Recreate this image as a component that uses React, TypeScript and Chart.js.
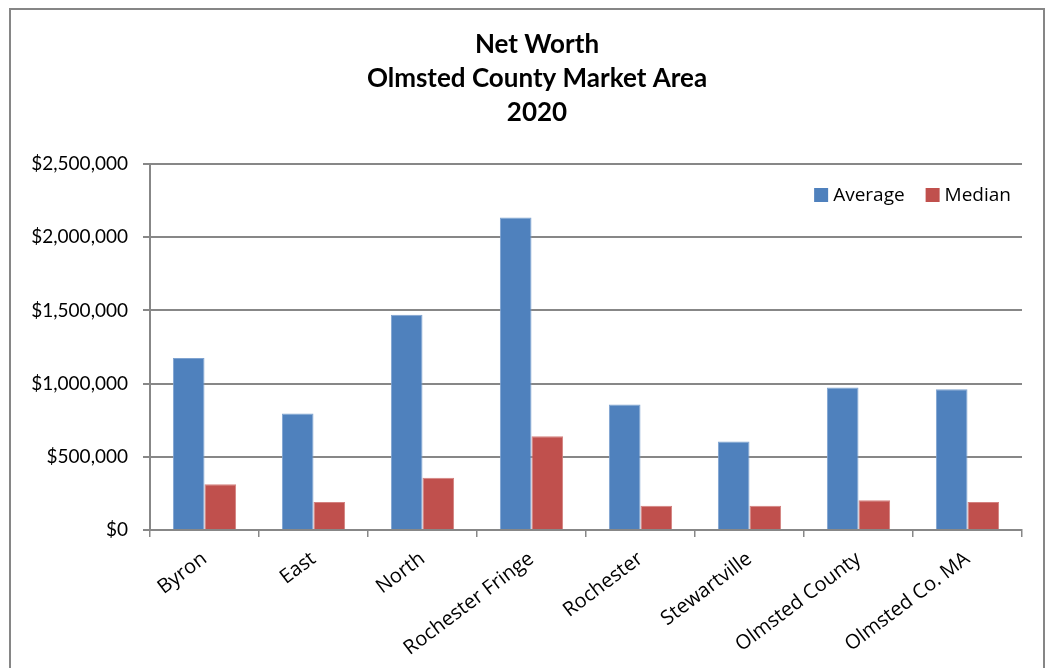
import React, { useEffect, useRef } from "react";
import { Chart, registerables } from "chart.js";

Chart.register(...registerables);

const categories = [
  "Byron",
  "East",
  "North",
  "Rochester Fringe",
  "Rochester",
  "Stewartville",
  "Olmsted County",
  "Olmsted Co. MA",
];
const averageValues = [1175000, 796000, 1471000, 2135000, 857000, 605000, 973000, 962000];
const medianValues = [312000, 191000, 357000, 641000, 166000, 166000, 203000, 191000];
const titleLines = ["Net Worth", "Olmsted County Market Area", "2020"];
const seriesNames = ["Average", "Median"];

const FONT = "Lato, 'Open Sans', sans-serif";
const FONT2 = "'Open Sans', sans-serif";
const GRID = "#878787";

const titlePlugin = {
  id: "multiTitle",
  afterDraw(chart: any) {
    const ctx = chart.ctx;
    ctx.save();
    ctx.fillStyle = "#000";
    ctx.font = `bold 26px ${FONT}`;
    ctx.textAlign = "center";
    ctx.textBaseline = "middle";
    titleLines.forEach((line, i) => {
      ctx.fillText(line, 537, 45 + i * 34);
    });
    ctx.restore();
  },
};

const legendPlugin = {
  id: "insideLegend",
  afterDraw(chart: any) {
    const ctx = chart.ctx;
    const area = chart.chartArea;
    ctx.save();
    ctx.font = `19px ${FONT2}`;
    ctx.textBaseline = "middle";
    ctx.textAlign = "left";
    const box = 14;
    const gapBoxText = 5;
    const gapItems = 21;
    const items = chart.data.datasets.map((d: any) => ({
      label: d.label,
      color: d.backgroundColor,
      w: box + gapBoxText + ctx.measureText(d.label).width,
    }));
    const total = items.reduce((s: number, it: any) => s + it.w, 0) + gapItems * (items.length - 1);
    let x = area.right - 11 - total;
    const y = area.top + 31;
    items.forEach((it: any) => {
      ctx.fillStyle = it.color;
      ctx.fillRect(x, y - box / 2, box, box);
      ctx.fillStyle = "#000";
      ctx.fillText(it.label, x + box + gapBoxText, y + 1);
      x += it.w + gapItems;
    });
    ctx.restore();
  },
};

export default function App() {
  const ref = useRef<HTMLCanvasElement | null>(null);

  useEffect(() => {
    if (!ref.current) return;
    const chart = new Chart(ref.current, {
      type: "bar",
      data: {
        labels: categories,
        datasets: [
          {
            label: seriesNames[0],
            data: averageValues,
            backgroundColor: "#4F81BD",
            borderColor: "#7FA3D0",
            borderWidth: 1,
            categoryPercentage: 0.58,
            barPercentage: 1,
          },
          {
            label: seriesNames[1],
            data: medianValues,
            backgroundColor: "#C0504D",
            borderColor: "#D4817F",
            borderWidth: 1,
            categoryPercentage: 0.58,
            barPercentage: 1,
          },
        ],
      },
      plugins: [titlePlugin, legendPlugin],
      options: {
        animation: false,
        responsive: false,
        devicePixelRatio: 1,
        layout: { padding: { left: 10, right: 31, top: 164, bottom: 0 } },
        plugins: {
          title: { display: false },
          legend: { display: false },
          tooltip: { enabled: false },
        },
        scales: {
          x: {
            afterFit: (s: any) => {
              s.height = 138;
            },
            grid: {
              display: true,
              offset: true,
              drawOnChartArea: false,
              drawTicks: true,
              tickLength: 7,
              color: GRID,
              lineWidth: 1.5,
            },
            border: { display: true, color: GRID, width: 2 },
            ticks: {
              color: "#000",
              font: { family: FONT2, size: 20 },
              maxRotation: 37,
              minRotation: 37,
              padding: 10,
            },
          },
          y: {
            min: 0,
            max: 2500000,
            afterFit: (s: any) => {
              s.width = 140;
            },
            grid: {
              color: GRID,
              lineWidth: 2,
              tickLength: 7,
              drawTicks: true,
            },
            border: { display: true, color: GRID, width: 2 },
            ticks: {
              stepSize: 500000,
              color: "#000",
              font: { family: FONT, size: 19 },
              padding: 15,
              callback: (v: any) => "$" + Number(v).toLocaleString("en-US"),
            },
          },
        },
      },
    });
    return () => chart.destroy();
  }, []);

  return (
    <div style={{ position: "fixed", left: 0, top: 0, width: 1053, height: 668, background: "#fff" }}>
      <div
        style={{
          position: "absolute",
          left: 9,
          top: 8,
          width: 1036,
          height: 680,
          border: "2px solid #868686",
          boxSizing: "border-box",
        }}
      />
      <canvas ref={ref} width={1053} height={668} style={{ position: "absolute", left: 0, top: 0 }} />
    </div>
  );
}
